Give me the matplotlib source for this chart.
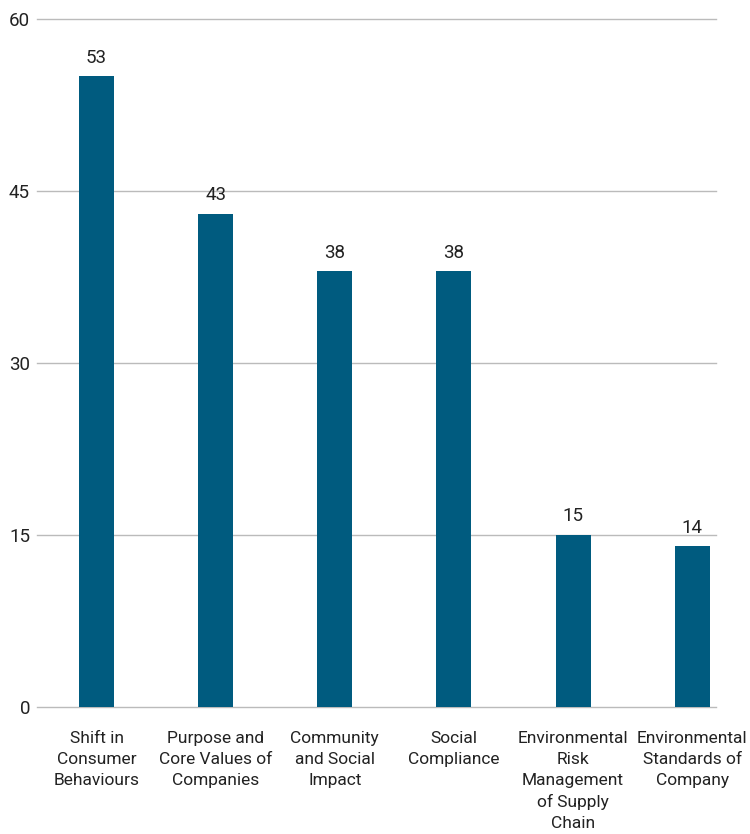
import numpy as np
import matplotlib.pyplot as plt

# категорії та значення
categories = ['Shift in\nConsumer\nBehaviours',
              'Purpose and\nCore Values of\nCompanies',
              'Community\nand Social\nImpact',
              'Social\nCompliance',
              'Environmental\nRisk\nManagement\nof Supply\nChain',
              'Environmental\nStandards of\nCompany']
values = [55, 43, 38, 38, 15, 14]
value_labels = ['53', '43', '38', '38', '15', '14']
yticks = [0, 15, 30, 45, 60]

plt.rcParams['font.family'] = ['Roboto', 'DejaVu Sans']

fig = plt.figure(figsize=(7.5, 8.34), dpi=100)
ax = fig.add_axes([0.0493, 0.1523, 0.9054, 0.8249])

x = np.arange(len(categories))
ax.bar(x, values, width=0.294, color='#005b7f', zorder=3)

for index, value in enumerate(values):
    ax.annotate(value_labels[index], (index, value), xytext=(0, 7), textcoords='offset points',
                ha='center', va='bottom', fontsize=13.5, color='#222222')

ax.set_ylim(0, 60)
ax.set_xlim(-0.5, 5.2)
ax.set_yticks(yticks)
ax.set_xticks(x)
ax.set_xticklabels(categories, fontsize=12.5, color='#222222', linespacing=1.5)
ax.tick_params(axis='y', labelsize=13.5, labelcolor='#222222', length=0, pad=5)
ax.tick_params(axis='x', length=0, pad=17)
ax.yaxis.grid(True, color='#bbbbbb', linewidth=1, zorder=0)
for gl in ax.get_ygridlines():
    gl.set_clip_on(False)
ax.set_axisbelow(True)
for s in ax.spines.values():
    s.set_visible(False)

fig.savefig('out.png', dpi=100)
